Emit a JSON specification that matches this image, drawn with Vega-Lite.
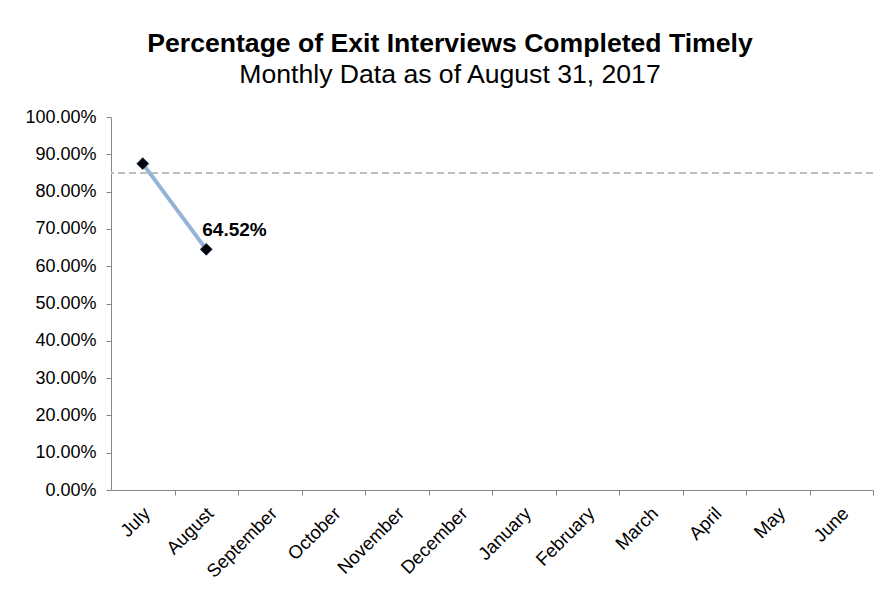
{
  "$schema": "https://vega.github.io/schema/vega-lite/v6.json",
  "width": 762,
  "height": 373,
  "autosize": {"type": "none"},
  "padding": {"left": 111, "top": 117, "right": 10, "bottom": 101},
  "background": "white",
  "title": {
    "text": "Percentage of Exit Interviews Completed Timely",
    "subtitle": "Monthly Data as of August 31, 2017",
    "anchor": "middle",
    "frame": "group",
    "dx": -42,
    "offset": 19,
    "font": "Liberation Sans",
    "fontSize": 26.6,
    "fontWeight": "bold",
    "color": "black",
    "subtitleFont": "Liberation Sans",
    "subtitleFontSize": 26.6,
    "subtitleColor": "black",
    "subtitlePadding": 5
  },
  "config": {
    "view": {"stroke": null},
    "font": "Liberation Sans",
    "axisY": {
      "title": null,
      "values": [0, 0.1, 0.2, 0.3, 0.4, 0.5, 0.6, 0.7, 0.8, 0.9, 1],
      "format": ".2%",
      "labelFontSize": 18,
      "labelColor": "#000000",
      "labelPadding": 10,
      "labelOverlap": false,
      "tickCount": 11,
      "tickSize": 5,
      "tickColor": "#868686",
      "domainColor": "#868686",
      "grid": false
    }
  },
  "data": {
    "values": [
      {"month": "July", "value": 0.875},
      {"month": "August", "value": 0.6452},
      {"month": "September", "value": null},
      {"month": "October", "value": null},
      {"month": "November", "value": null},
      {"month": "December", "value": null},
      {"month": "January", "value": null},
      {"month": "February", "value": null},
      {"month": "March", "value": null},
      {"month": "April", "value": null},
      {"month": "May", "value": null},
      {"month": "June", "value": null}
    ]
  },
  "layer": [
    {
      "mark": {"type": "rule", "color": "#BFBFBF", "strokeWidth": 2, "strokeDash": [7, 4]},
      "encoding": {
        "y": {
          "datum": 0.85,
          "type": "quantitative",
          "scale": {"domain": [0, 1], "nice": false},
          "axis": {"values": [0, 0.1, 0.2, 0.3, 0.4, 0.5, 0.6, 0.7, 0.8, 0.9, 1], "format": ".2%", "labelOverlap": false, "title": null}
        }
      }
    },
    {
      "encoding": {
        "x": {
          "field": "month",
          "type": "nominal",
          "sort": null,
          "scale": {
            "type": "point",
            "padding": 0.5,
            "domain": ["July", "August", "September", "October", "November", "December", "January", "February", "March", "April", "May", "June"]
          },
          "axis": {
            "title": null,
            "labelAngle": -45,
            "labelAlign": "right",
            "labelBaseline": "middle",
            "labelFontSize": 18.5,
            "labelColor": "#000000",
            "labelPadding": 15,
            "labelOverlap": false,
            "tickOffset": 31.75,
            "labelOffset": -28,
            "tickSize": 5,
            "tickColor": "#868686",
            "domainColor": "#868686",
            "grid": false
          }
        },
        "y": {
          "field": "value",
          "type": "quantitative",
          "scale": {"domain": [0, 1], "nice": false},
          "axis": {"values": [0, 0.1, 0.2, 0.3, 0.4, 0.5, 0.6, 0.7, 0.8, 0.9, 1], "format": ".2%", "labelOverlap": false, "title": null}
        }
      },
      "layer": [
        {"mark": {"type": "line", "color": "#95B3D7", "strokeWidth": 4}},
        {"mark": {"type": "point", "shape": "diamond", "filled": true, "color": "#000000", "stroke": "#1F3864", "strokeWidth": 1, "opacity": 1, "size": 140}},
        {
          "transform": [{"filter": "datum.month === 'August'"}],
          "mark": {"type": "text", "align": "left", "baseline": "alphabetic", "dx": -4, "dy": -13, "fontWeight": "bold", "fontSize": 19, "color": "#000000"},
          "encoding": {"text": {"field": "value", "type": "quantitative", "format": ".2%"}}
        }
      ]
    }
  ]
}
